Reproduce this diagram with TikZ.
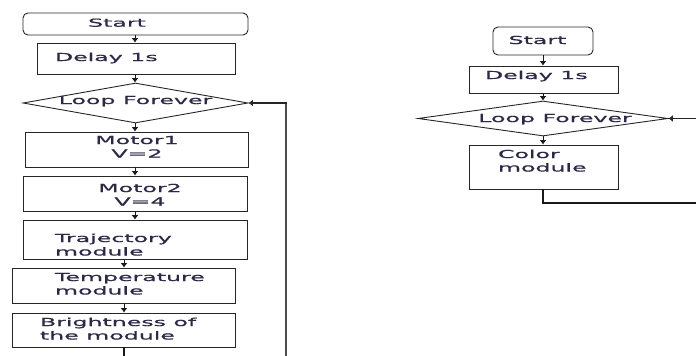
\documentclass[tikz,border=0pt]{standalone}
\usepackage{fontspec}
\setmainfont[FakeStretch=2.15,FakeBold=0.8]{DejaVu Sans}
\usetikzlibrary{shapes.geometric,arrows.meta}
\newcommand{\txl}[3]{\makebox[0pt][l]{\hspace*{#1}\raisebox{#2}[0pt][0pt]{\begin{tabular}[t]{@{}l@{}}#3\end{tabular}}}}
\newcommand{\txc}[3]{\makebox[0pt][l]{\hspace*{#1}\makebox[0pt][c]{\raisebox{#2}[0pt][0pt]{\begin{tabular}[t]{@{}c@{}}#3\end{tabular}}}}}
\renewcommand{\arraystretch}{1}
\definecolor{txt}{RGB}{45,40,70}
\tikzset{
  box/.style={draw=black!85, line width=0.9pt, inner sep=0pt, fill=white,
    font=\fontsize{11}{13.5}\selectfont, text=txt},
  term/.style={box, rounded corners=5pt},
  dec/.style={box, diamond},
  tip/.style={-{Latex[length=4.5pt,width=7pt]}},
  flow/.style={draw=black!90, line width=1pt, tip},
  link/.style={draw=black!90, line width=1.2pt},
  vline/.style={draw=black!70, line width=2.2pt},
  loop/.style={draw=black!85, line width=1.1pt, tip},
}
\begin{document}
\begin{tikzpicture}[x=1pt,y=-1pt]
\useasboundingbox (0,0) rectangle (696,356);
% left flowchart
\node[term, minimum width=225pt, minimum height=22pt] (start) at (135.5,24) {\txc{-18.5pt}{-2.7pt}{Start}};
\node[box, minimum width=198pt, minimum height=31pt] (delay) at (136,58.5) {\txl{-81pt}{-2.5pt}{Delay 1s}};
\node[dec, minimum width=225pt, minimum height=40pt] (diam) at (135.5,103) {\txc{0pt}{-1pt}{Loop Forever}};
\node[box, minimum width=223pt, minimum height=35pt] (m1) at (136.5,149.5) {\txc{0.5pt}{5.5pt}{Motor1\\V=2}};
\node[box, minimum width=224pt, minimum height=35pt] (m2) at (135,193.5) {\txc{5pt}{1.5pt}{Motor2\\V=4}};
\node[box, minimum width=224pt, minimum height=39pt] (traj) at (135,239.5) {\txl{-80pt}{-2.5pt}{Trajectory\\module}};
\node[box, minimum width=223pt, minimum height=35pt] (temp) at (123.5,285.5) {\txl{-68.5pt}{4.5pt}{Temperature\\module}};
\node[box, minimum width=223pt, minimum height=34pt] (bright) at (123.5,330) {\txl{-83.5pt}{4pt}{Brightness of\\the module}};
\coordinate (bend) at (124,357);
\coordinate (loopL) at (286,357);
\coordinate (loopC) at (286,103);

\draw[flow] (start.south -| 135,0) -- (delay.north -| 135,0);
\draw[flow] (delay.south -| 135,0) -- (diam.north -| 135,0);
\draw[flow] (diam.south -| 135,0) -- (m1.north -| 135,0);
\draw[flow] (m1.south -| 135,0) -- (m2.north -| 135,0);
\draw[flow] (m2.south -| 135,0) -- (traj.north -| 135,0);
\draw[flow] (traj.south -| 124,0) -- (temp.north -| 124,0);
\draw[flow] (temp.south -| 124,0) -- (bright.north -| 124,0);
\draw[link] (bright.south -| 124,0) -- (bend);
\draw[vline] (loopL) -- ([yshift=-0.5pt]loopC);
\draw[loop] ([xshift=1pt]loopC) -- (diam.east);

% right flowchart
\node[term, minimum width=100pt, minimum height=28pt] (start2) at (543,41) {\txc{-5.5pt}{-3pt}{Start}};
\node[box, minimum width=149pt, minimum height=27pt] (delay2) at (543.5,79.5) {\txl{-58.5pt}{0.5pt}{Delay 1s}};
\node[dec, minimum width=250pt, minimum height=35pt] (diam2) at (543,118.5) {\txc{12pt}{-3.5pt}{Loop Forever}};
\node[box, minimum width=149pt, minimum height=44pt] (color) at (543.5,167) {\txl{-45.5pt}{9pt}{Color\\module}};
\coordinate (cb) at (543,203);
\coordinate (ce) at (697,203);
\coordinate (re) at (697,118.5);

\draw[flow] (start2.south -| 543,0) -- (delay2.north -| 543,0);
\draw[flow] (delay2.south -| 543,0) -- (diam2.north -| 543,0);
\draw[flow] (diam2.south -| 543,0) -- (color.north -| 543,0);
\draw[link] (color.south -| 543,0) -- (cb) -- (ce);
\draw[loop] (re) -- (diam2.east);
\end{tikzpicture}
\end{document}
